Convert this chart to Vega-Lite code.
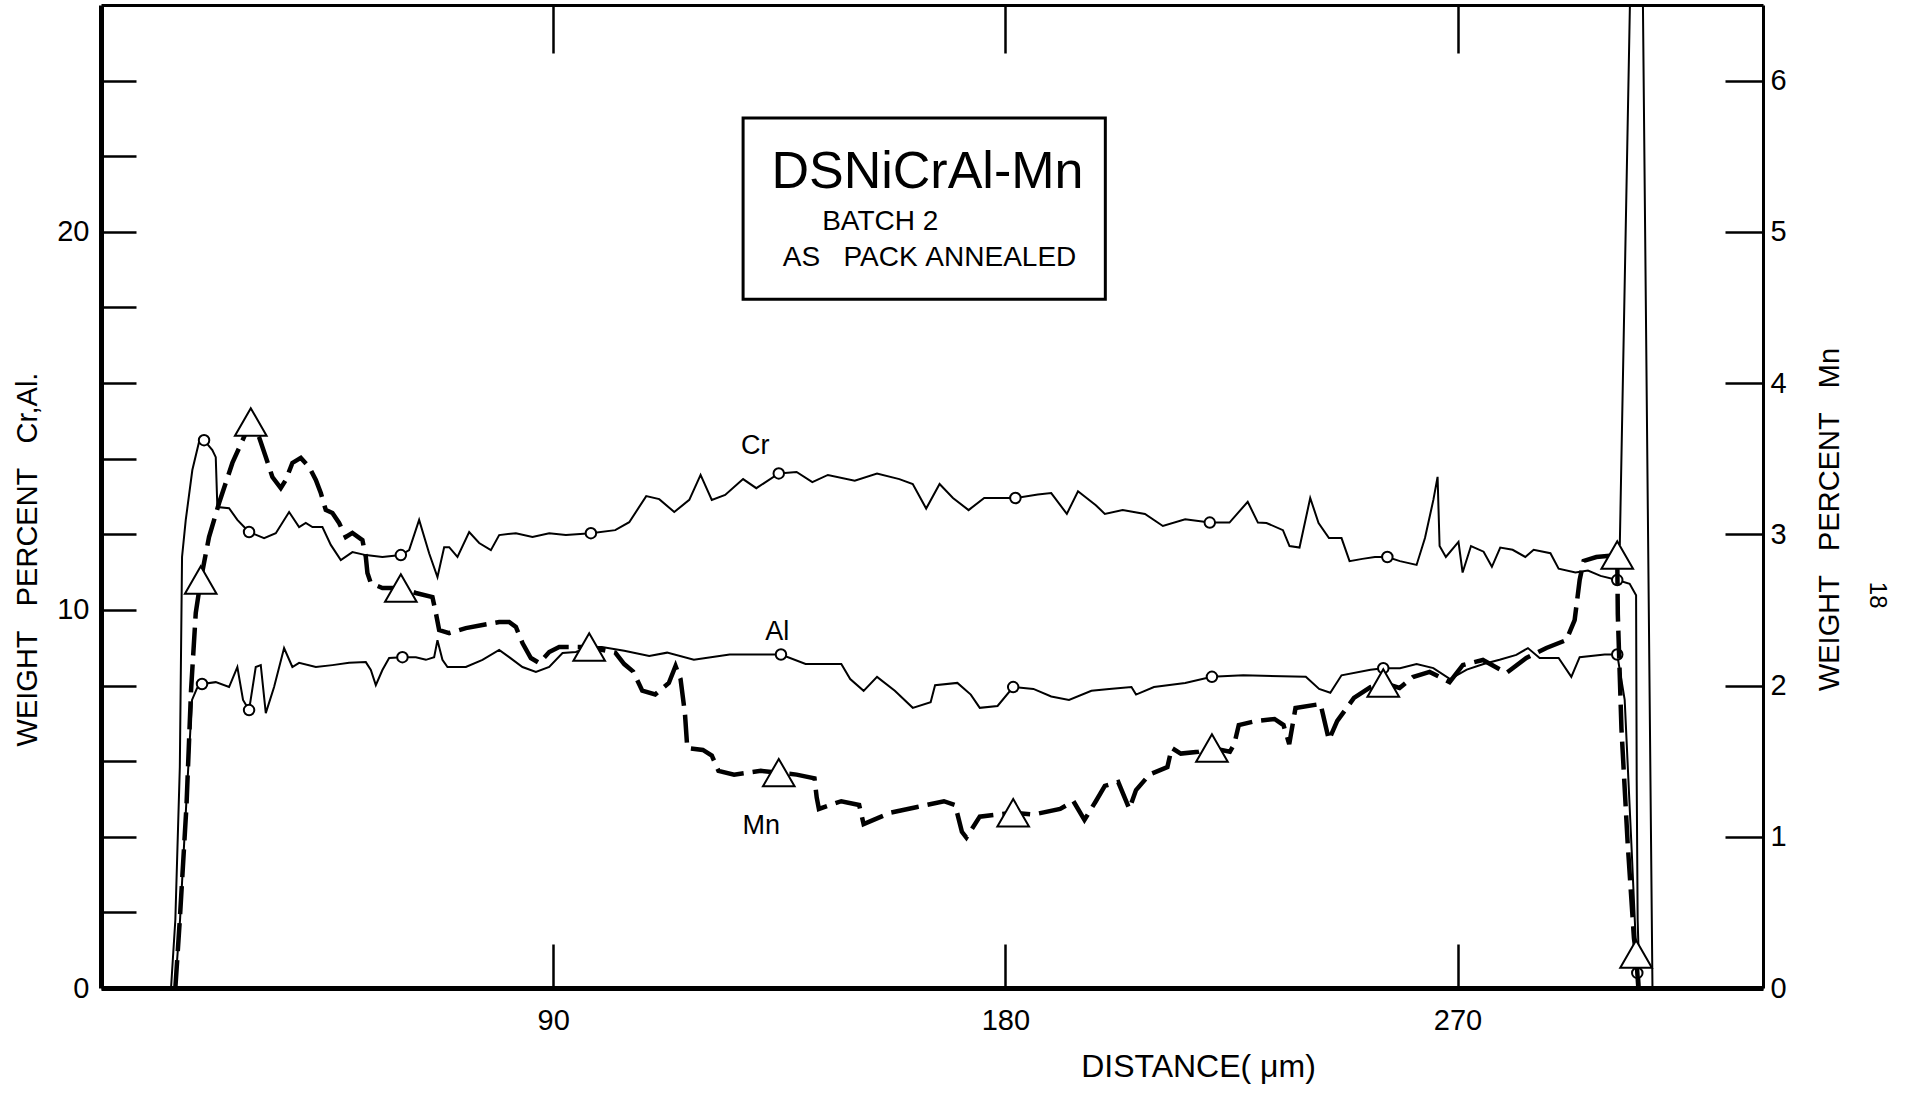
{
  "$schema": "https://vega.github.io/schema/vega-lite/v6.json",
  "width": 1662,
  "height": 983,
  "autosize": {"type": "none"},
  "padding": {"left": 101, "top": 5, "right": 142, "bottom": 110},
  "background": "white",
  "config": {
    "view": {"stroke": null},
    "font": "Liberation Sans",
    "axis": {"grid": false, "labelColor": "black", "titleColor": "black", "domainColor": "black", "tickColor": "black", "labelFont": "Liberation Sans", "titleFont": "Liberation Sans", "titleFontWeight": "normal", "labelFlush": false, "labelOverlap": false}
  },
  "datasets": {
    "cr": [
      {"x":13.94,"y":0},{"x":14.8,"y":1.81},{"x":15.69,"y":5.85},{"x":16.13,"y":11.4},{"x":16.87,"y":12.38},{"x":18.18,"y":13.7},{"x":19.51,"y":14.44},{"x":20.51,"y":14.49,"m":1},{"x":22.16,"y":14.23},{"x":22.84,"y":14.04},{"x":23.16,"y":12.72},{"x":25.49,"y":12.69},{"x":27.14,"y":12.38},{"x":29.47,"y":12.06,"m":1},{"x":32.46,"y":11.9},{"x":34.79,"y":12.03},{"x":37.44,"y":12.59},{"x":39.43,"y":12.19},{"x":40.76,"y":12.3},{"x":42.08,"y":12.19},{"x":44.07,"y":12.19},{"x":45.74,"y":11.72},{"x":47.73,"y":11.32},{"x":50.04,"y":11.53},{"x":52.71,"y":11.45},{"x":56.01,"y":11.4},{"x":59.68,"y":11.45,"m":1},{"x":61.33,"y":11.58},{"x":63.32,"y":12.38},{"x":65.31,"y":11.5},{"x":66.97,"y":10.87},{"x":68.3,"y":11.66},{"x":69.3,"y":11.66},{"x":70.95,"y":11.4},{"x":73.28,"y":12.06},{"x":75.27,"y":11.77},{"x":77.6,"y":11.58},{"x":79.25,"y":11.98},{"x":82.58,"y":12.03},{"x":85.88,"y":11.93},{"x":89.21,"y":12.03},{"x":92.53,"y":11.98},{"x":97.51,"y":12.03,"m":1},{"x":102.35,"y":12.11},{"x":105.14,"y":12.32},{"x":108.52,"y":13.01},{"x":111.11,"y":12.93},{"x":114.1,"y":12.59},{"x":117.09,"y":12.91},{"x":119.34,"y":13.57},{"x":121.57,"y":12.91},{"x":124.23,"y":13.04},{"x":127.8,"y":13.46},{"x":130.43,"y":13.22},{"x":134.9,"y":13.61,"m":1},{"x":138.45,"y":13.65},{"x":141.58,"y":13.38},{"x":144.68,"y":13.57},{"x":150.02,"y":13.42},{"x":154.46,"y":13.61},{"x":158.9,"y":13.46},{"x":161.57,"y":13.33},{"x":164.24,"y":12.68},{"x":166.91,"y":13.33},{"x":169.57,"y":12.96},{"x":172.68,"y":12.64},{"x":175.79,"y":12.96},{"x":182,"y":12.96,"m":1},{"x":186.46,"y":13.05},{"x":189.13,"y":13.09},{"x":192.24,"y":12.54},{"x":194.46,"y":13.14},{"x":198.01,"y":12.77},{"x":199.8,"y":12.54},{"x":203.35,"y":12.64},{"x":207.79,"y":12.54},{"x":211.35,"y":12.22},{"x":215.79,"y":12.4},{"x":220.69,"y":12.31,"m":1},{"x":224.61,"y":12.31},{"x":228.24,"y":12.86},{"x":230.27,"y":12.31},{"x":231.98,"y":12.3},{"x":235.25,"y":12.11},{"x":236.56,"y":11.69},{"x":238.55,"y":11.65},{"x":240.68,"y":12.96},{"x":242.34,"y":12.3},{"x":244.41,"y":11.9},{"x":246.91,"y":11.9},{"x":248.51,"y":11.29},{"x":251.06,"y":11.35},{"x":253.55,"y":11.4},{"x":256.03,"y":11.4,"m":1},{"x":258.54,"y":11.29},{"x":261.85,"y":11.19},{"x":263.52,"y":11.9},{"x":265.19,"y":12.91},{"x":266.03,"y":13.52},{"x":266.43,"y":11.69},{"x":267.68,"y":11.4},{"x":270.19,"y":11.8},{"x":271.01,"y":10.99},{"x":272.68,"y":11.69},{"x":275.19,"y":11.54},{"x":276.84,"y":11.14},{"x":278.5,"y":11.65},{"x":280.97,"y":11.59},{"x":283.49,"y":11.4},{"x":285.15,"y":11.59},{"x":288.49,"y":11.5},{"x":290.12,"y":11.09},{"x":293.47,"y":10.99},{"x":295.96,"y":11.04},{"x":298.47,"y":10.9},{"x":301.79,"y":10.79,"m":1},{"x":304.26,"y":10.69},{"x":305.54,"y":10.39},{"x":305.66,"y":5.5},{"x":305.85,"y":1.8},{"x":306.25,"y":0}
    ],
    "crSpike": [
      {"x":302.3,"y":11.72},{"x":304.7,"y":28.77},{"x":306.7,"y":28.77},{"x":308.8,"y":0}
    ],
    "al": [
      {"x":14.74,"y":0},{"x":15.73,"y":1.8},{"x":17.12,"y":5.24},{"x":18.12,"y":7.62},{"x":19.12,"y":7.93},{"x":20.11,"y":8.04,"m":1},{"x":22.84,"y":8.09},{"x":25.49,"y":7.96},{"x":27.14,"y":8.49},{"x":28.27,"y":7.62},{"x":29.47,"y":7.35,"m":1},{"x":30.8,"y":8.49},{"x":31.8,"y":8.54},{"x":32.8,"y":7.27},{"x":34.45,"y":7.96},{"x":36.44,"y":8.99},{"x":38.09,"y":8.49},{"x":39.43,"y":8.6},{"x":42.76,"y":8.49},{"x":46.06,"y":8.54},{"x":49.38,"y":8.6},{"x":52.71,"y":8.62},{"x":53.71,"y":8.41},{"x":54.7,"y":8.01},{"x":56.01,"y":8.41},{"x":57.35,"y":8.73},{"x":60,"y":8.75,"m":1},{"x":62.67,"y":8.75},{"x":64.66,"y":8.68},{"x":66.31,"y":8.75},{"x":66.97,"y":9.2},{"x":67.96,"y":8.68},{"x":68.96,"y":8.49},{"x":72.62,"y":8.49},{"x":75.93,"y":8.68},{"x":79.25,"y":8.94},{"x":81.24,"y":8.75},{"x":83.89,"y":8.49},{"x":86.56,"y":8.36},{"x":89.21,"y":8.49},{"x":91.86,"y":8.86},{"x":94.52,"y":8.89},{"x":97.17,"y":9.02},{"x":99.7,"y":9.02},{"x":104.14,"y":8.92},{"x":109.12,"y":8.78},{"x":112.68,"y":8.87},{"x":118,"y":8.68},{"x":125.13,"y":8.82},{"x":135.34,"y":8.82,"m":1},{"x":140.24,"y":8.57},{"x":147.35,"y":8.57},{"x":149.12,"y":8.17},{"x":151.79,"y":7.86},{"x":154.46,"y":8.23},{"x":158,"y":7.86},{"x":161.57,"y":7.41},{"x":165.13,"y":7.56},{"x":166.01,"y":8.01},{"x":170.45,"y":8.07},{"x":173.12,"y":7.76},{"x":174.91,"y":7.41},{"x":178.45,"y":7.46},{"x":181.56,"y":7.96,"m":1},{"x":185.58,"y":7.91},{"x":189.13,"y":7.71},{"x":192.67,"y":7.62},{"x":197.13,"y":7.86},{"x":200.68,"y":7.91},{"x":205.1,"y":7.96},{"x":206.01,"y":7.76},{"x":209.58,"y":7.96},{"x":215.79,"y":8.07},{"x":221.12,"y":8.23,"m":1},{"x":227.36,"y":8.27},{"x":239.8,"y":8.23},{"x":242.45,"y":7.91},{"x":244.68,"y":7.81},{"x":246.91,"y":8.27},{"x":252.68,"y":8.42},{"x":255.22,"y":8.46,"m":1},{"x":258.54,"y":8.46},{"x":261.85,"y":8.57},{"x":265.19,"y":8.46},{"x":268.52,"y":8.17},{"x":271.84,"y":8.42},{"x":275.19,"y":8.57},{"x":278.37,"y":8.68},{"x":281.7,"y":8.81},{"x":284.01,"y":8.99},{"x":286.34,"y":8.73},{"x":290.12,"y":8.73},{"x":292.65,"y":8.23},{"x":294.31,"y":8.75},{"x":299.29,"y":8.82},{"x":301.79,"y":8.82,"m":1},{"x":303.27,"y":7.62},{"x":304.66,"y":3.65},{"x":305.46,"y":1.27},{"x":305.78,"y":0.4,"m":1},{"x":306.05,"y":0}
    ],
    "mn": [
      {"x":14.8,"y":0},{"x":15.69,"y":0.453},{"x":17.02,"y":1.21},{"x":17.92,"y":1.966},{"x":18.86,"y":2.48},{"x":19.85,"y":2.698,"m":1},{"x":21.5,"y":2.982},{"x":23.5,"y":3.207},{"x":26.15,"y":3.472},{"x":29.81,"y":3.743,"m":1},{"x":31.46,"y":3.643},{"x":32.8,"y":3.511},{"x":34.11,"y":3.379},{"x":35.78,"y":3.306},{"x":36.78,"y":3.359},{"x":38.09,"y":3.472},{"x":39.77,"y":3.505},{"x":41.42,"y":3.445},{"x":42.76,"y":3.359},{"x":43.75,"y":3.273},{"x":44.74,"y":3.161},{"x":46.06,"y":3.141},{"x":47.39,"y":3.075},{"x":48.73,"y":2.982},{"x":50.04,"y":3.009},{"x":52.03,"y":2.962},{"x":52.71,"y":2.85},{"x":53.03,"y":2.744},{"x":53.7,"y":2.678},{"x":56.01,"y":2.645},{"x":59.68,"y":2.645,"m":1},{"x":62.67,"y":2.612},{"x":65.97,"y":2.585},{"x":66.65,"y":2.48},{"x":67.3,"y":2.367},{"x":69.3,"y":2.347},{"x":72.62,"y":2.38},{"x":75.93,"y":2.4},{"x":79.25,"y":2.42},{"x":81.24,"y":2.42},{"x":82.58,"y":2.387},{"x":83.89,"y":2.281},{"x":85.56,"y":2.182},{"x":87.22,"y":2.149},{"x":89.21,"y":2.222},{"x":91.2,"y":2.255},{"x":94.52,"y":2.255},{"x":97.17,"y":2.255,"m":1},{"x":102.35,"y":2.218},{"x":104.14,"y":2.142},{"x":105.93,"y":2.092},{"x":107.73,"y":1.966},{"x":110.31,"y":1.941},{"x":113.02,"y":2.017},{"x":114.36,"y":2.129},{"x":115.35,"y":2.043},{"x":116.23,"y":1.814},{"x":116.69,"y":1.587},{"x":119.79,"y":1.574},{"x":121.57,"y":1.537},{"x":122.9,"y":1.436},{"x":126.01,"y":1.411},{"x":131.34,"y":1.436},{"x":134.9,"y":1.424,"m":1},{"x":138.45,"y":1.411},{"x":142.01,"y":1.386},{"x":142.45,"y":1.26},{"x":142.89,"y":1.184},{"x":147.35,"y":1.235},{"x":150.9,"y":1.21},{"x":151.79,"y":1.084},{"x":157.11,"y":1.159},{"x":162.47,"y":1.197},{"x":167.78,"y":1.235},{"x":170.01,"y":1.21},{"x":171.35,"y":1.033},{"x":172.24,"y":0.995},{"x":174.91,"y":1.133},{"x":178.45,"y":1.147},{"x":181.56,"y":1.159,"m":1},{"x":185.58,"y":1.147},{"x":190.9,"y":1.184},{"x":193.55,"y":1.235},{"x":195.74,"y":1.111},{"x":198.01,"y":1.235},{"x":199.8,"y":1.336},{"x":202.47,"y":1.362},{"x":204.68,"y":1.184},{"x":206.01,"y":1.309},{"x":208.68,"y":1.411},{"x":212.25,"y":1.461},{"x":213.12,"y":1.587},{"x":214.92,"y":1.55},{"x":218.44,"y":1.562},{"x":221.12,"y":1.587,"m":1},{"x":224.69,"y":1.562},{"x":225.57,"y":1.613},{"x":226.46,"y":1.739},{"x":229.99,"y":1.766},{"x":233.57,"y":1.779},{"x":235.36,"y":1.739},{"x":236.5,"y":1.613},{"x":237.75,"y":1.851},{"x":242.73,"y":1.878},{"x":244.4,"y":1.64},{"x":246.06,"y":1.766},{"x":249.38,"y":1.918},{"x":252.69,"y":1.99},{"x":255.22,"y":2.017,"m":1},{"x":258.46,"y":1.984},{"x":261.11,"y":2.056},{"x":264.44,"y":2.09},{"x":268.42,"y":2.023},{"x":271.07,"y":2.136},{"x":275.05,"y":2.169},{"x":279.71,"y":2.083},{"x":283.69,"y":2.182},{"x":287.68,"y":2.248},{"x":291.66,"y":2.301},{"x":293.31,"y":2.433},{"x":294.31,"y":2.698},{"x":295.1,"y":2.824},{"x":297.63,"y":2.85},{"x":301.79,"y":2.863,"m":1},{"x":301.9,"y":2.473},{"x":302.63,"y":1.713},{"x":303.86,"y":0.959},{"x":305.12,"y":0.327},{"x":305.54,"y":0.225,"m":1},{"x":305.96,"y":0.013},{"x":306.05,"y":0}
    ]
  },
  "layer": [
    {
      "layer": [
        {
          "data": {"name": "cr"},
          "mark": {"type": "line", "stroke": "black", "strokeWidth": 2, "clip": true},
          "encoding": {
            "x": {"field": "x", "type": "quantitative", "scale": {"domain": [0, 330.8], "nice": false, "zero": false},
              "axis": {"orient": "bottom", "values": [90, 180, 270], "tickSize": -44, "tickWidth": 2.5, "domainWidth": 5, "labelFontSize": 29, "labelPadding": 62, "title": "DISTANCE(\u00a0μm)", "titleFontSize": 32, "titleX": 1097, "titleY": 78, "titleAlign": "center", "titleBaseline": "middle", "titleAngle": 0}},
            "y": {"field": "y", "type": "quantitative", "scale": {"domain": [0, 26], "nice": false, "zero": false},
              "axis": {"orient": "left", "values": [0, 2, 4, 6, 8, 10, 12, 14, 16, 18, 20, 22, 24], "tickSize": -35, "tickWidth": 2.5, "domainWidth": 5, "labelExpr": "datum.value % 10 === 0 ? datum.label : ''", "labelFontSize": 29, "labelPadding": 47, "title": "WEIGHT\u00a0\u00a0\u00a0PERCENT\u00a0\u00a0\u00a0Cr,Al.", "titleFontSize": 29, "titleAngle": -90, "titleX": -74, "titleY": 554, "titleAlign": "center", "titleBaseline": "middle"}}
          }
        },
        {
          "data": {"name": "crSpike"},
          "mark": {"type": "line", "stroke": "black", "strokeWidth": 2, "clip": true},
          "encoding": {"x": {"field": "x", "type": "quantitative"}, "y": {"field": "y", "type": "quantitative"}}
        },
        {
          "data": {"name": "al"},
          "mark": {"type": "line", "stroke": "black", "strokeWidth": 2, "clip": true},
          "encoding": {"x": {"field": "x", "type": "quantitative"}, "y": {"field": "y", "type": "quantitative"}}
        },
        {
          "data": {"name": "cr"},
          "transform": [{"filter": "datum.m"}],
          "mark": {"type": "point", "shape": "circle", "size": 110, "filled": true, "fill": "white", "stroke": "black", "strokeWidth": 2, "opacity": 1},
          "encoding": {"x": {"field": "x", "type": "quantitative"}, "y": {"field": "y", "type": "quantitative"}}
        },
        {
          "data": {"name": "al"},
          "transform": [{"filter": "datum.m"}],
          "mark": {"type": "point", "shape": "circle", "size": 110, "filled": true, "fill": "white", "stroke": "black", "strokeWidth": 2, "opacity": 1},
          "encoding": {"x": {"field": "x", "type": "quantitative"}, "y": {"field": "y", "type": "quantitative"}}
        },
        {
          "data": {"values": [{"x": 127.8, "x2": 199.9, "y": 18.22, "y2": 23.01}]},
          "mark": {"type": "rect", "fill": "white", "stroke": "black", "strokeWidth": 3},
          "encoding": {"x": {"field": "x", "type": "quantitative"}, "x2": {"field": "x2"}, "y": {"field": "y", "type": "quantitative"}, "y2": {"field": "y2"}}
        },
        {
          "data": {"values": [{"t": "DSNiCrAl-Mn", "x": 164.5, "y": 21.58}]},
          "mark": {"type": "text", "fontSize": 52, "font": "Liberation Sans", "align": "center", "baseline": "middle", "color": "black"},
          "encoding": {"x": {"field": "x", "type": "quantitative"}, "y": {"field": "y", "type": "quantitative"}, "text": {"field": "t"}}
        },
        {
          "data": {"values": [{"t": "BATCH\u00a02", "x": 155.1, "y": 20.26}, {"t": "AS\u00a0\u00a0\u00a0PACK\u00a0ANNEALED", "x": 164.9, "y": 19.31}]},
          "mark": {"type": "text", "fontSize": 28, "font": "Liberation Sans", "align": "center", "baseline": "middle", "color": "black"},
          "encoding": {"x": {"field": "x", "type": "quantitative"}, "y": {"field": "y", "type": "quantitative"}, "text": {"field": "t"}}
        },
        {
          "data": {"values": [{"t": "Cr", "x": 130.2, "y": 14.33}, {"t": "Al", "x": 134.6, "y": 9.42}, {"t": "Mn", "x": 131.4, "y": 4.28}]},
          "mark": {"type": "text", "fontSize": 27, "font": "Liberation Sans", "align": "center", "baseline": "middle", "color": "black"},
          "encoding": {"x": {"field": "x", "type": "quantitative"}, "y": {"field": "y", "type": "quantitative"}, "text": {"field": "t"}}
        },
        {
          "data": {"values": [{"t": "18", "x": 353.4, "y": 10.39}]},
          "mark": {"type": "text", "fontSize": 24, "font": "Liberation Sans", "align": "center", "baseline": "middle", "angle": 90, "color": "black"},
          "encoding": {"x": {"field": "x", "type": "quantitative"}, "y": {"field": "y", "type": "quantitative"}, "text": {"field": "t"}}
        }
      ]
    },
    {
      "layer": [
        {
          "data": {"name": "mn"},
          "mark": {"type": "line", "stroke": "black", "strokeWidth": 4.5, "strokeDash": [28, 9], "clip": true},
          "encoding": {
            "x": {"field": "x", "type": "quantitative", "scale": {"domain": [0, 330.8], "nice": false, "zero": false},
              "axis": {"orient": "top", "values": [90, 180, 270], "tickSize": -48, "tickWidth": 2.5, "domainWidth": 3, "labels": false, "title": null}},
            "y": {"field": "y", "type": "quantitative", "scale": {"domain": [0, 6.5], "nice": false, "zero": false},
              "axis": {"orient": "right", "values": [0, 1, 2, 3, 4, 5, 6], "format": "d", "tickSize": -38, "tickWidth": 2.5, "domainWidth": 3, "labelFontSize": 29, "labelPadding": 45, "title": "WEIGHT\u00a0\u00a0\u00a0PERCENT\u00a0\u00a0\u00a0Mn", "titleFontSize": 29, "titleAngle": -90, "titleX": 66, "titleY": 514, "titleAlign": "center", "titleBaseline": "middle"}}
          }
        },
        {
          "data": {"name": "mn"},
          "transform": [{"filter": "datum.m"}],
          "mark": {"type": "point", "shape": "triangle-up", "size": 1000, "filled": true, "fill": "white", "stroke": "black", "strokeWidth": 2, "opacity": 1},
          "encoding": {"x": {"field": "x", "type": "quantitative"}, "y": {"field": "y", "type": "quantitative"}}
        }
      ]
    }
  ],
  "resolve": {"scale": {"x": "independent", "y": "independent"}}
}
